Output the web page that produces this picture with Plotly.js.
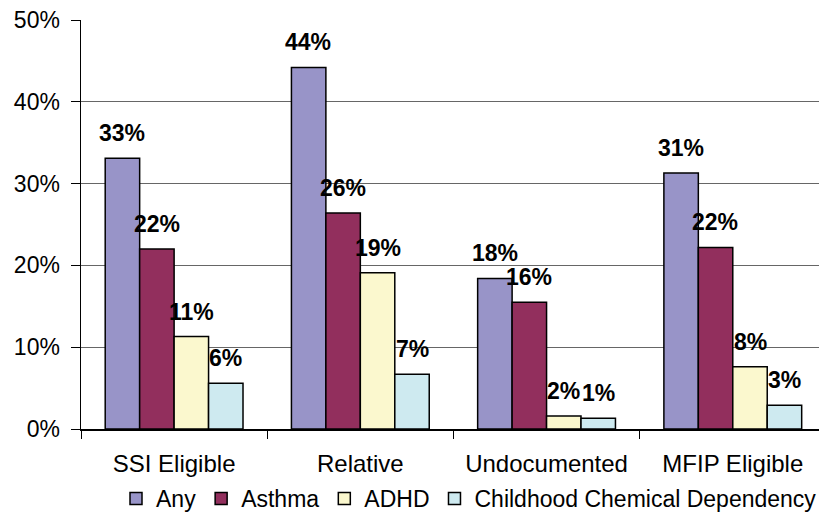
<!DOCTYPE html>
<html>
<head>
<meta charset="utf-8">
<script src="https://cdn.plot.ly/plotly-3.0.1.min.js"></script>
<style>
  html, body { margin: 0; padding: 0; background: #fff; }
  #chart { width: 822px; height: 527px; }
</style>
</head>
<body>
<div id="chart"></div>
<script>
// Program groups and the share of children with each condition (%)
const groups = ['SSI Eligible', 'Relative', 'Undocumented', 'MFIP Eligible'];
const seriesNames = ['Any', 'Asthma', 'ADHD', 'Childhood Chemical Dependency'];
const anyVals = [33.1, 44.2, 18.4, 31.3];
const asthmaVals = [22.0, 26.4, 15.5, 22.2];
const adhdVals = [11.3, 19.1, 1.6, 7.6];
const ccdVals = [5.6, 6.7, 1.3, 2.9];
const yTickVals = [0, 10, 20, 30, 40, 50];
const yTickText = ['0%', '10%', '20%', '30%', '40%', '50%'];

const seriesValues = [anyVals, asthmaVals, adhdVals, ccdVals];
const seriesColors = ['#9894C8', '#922F5D', '#FBF8CE', '#CEEAF0'];

const FONT = '"Liberation Sans", Arial, sans-serif';

const traces = seriesValues.map((vals, i) => ({
  type: 'bar',
  name: seriesNames[i],
  x: groups,
  y: vals,
  marker: { color: seriesColors[i], line: { color: '#000', width: 1.5 } },
  hoverinfo: 'skip'
}));

// Plot area geometry used to centre each value label over its own bar
const W = 822, H = 527;
const margin = { l: 81, r: 0, t: 20, b: 98 };
const xRange = [-0.5, 3.463];
const plotW = W - margin.l - margin.r;
const catPx = plotW / (xRange[1] - xRange[0]);
const bargap = 0.26;
const barPx = catPx * (1 - bargap) / seriesValues.length;

const annotations = [];
seriesValues.forEach((vals, i) => {
  vals.forEach((v, j) => {
    annotations.push({
      x: groups[j],
      y: v,
      xref: 'x', yref: 'y',
      text: '<b>' + Math.round(v) + '%</b>',
      showarrow: false,
      xanchor: 'center',
      yanchor: 'bottom',
      xshift: (i - (seriesValues.length - 1) / 2) * barPx,
      yshift: 10,
      font: { family: FONT, size: 23, color: '#000' }
    });
  });
});

const layout = {
  width: W,
  height: H,
  margin: margin,
  paper_bgcolor: '#fff',
  plot_bgcolor: '#fff',
  barmode: 'group',
  bargap: bargap,
  bargroupgap: 0,
  showlegend: true,
  legend: {
    orientation: 'h',
    x: 0.526,
    xanchor: 'center',
    y: -0.17,
    yanchor: 'middle',
    bgcolor: 'rgba(0,0,0,0)',
    font: { family: FONT, size: 23, color: '#000' },
    itemwidth: 30,
    tracegroupgap: 0
  },
  xaxis: {
    type: 'category',
    range: xRange,
    showline: true,
    linecolor: '#000',
    linewidth: 1.5,
    ticks: 'outside',
    tickson: 'boundaries',
    ticklen: 8,
    tickcolor: '#000',
    tickwidth: 1,
    showgrid: false,
    tickfont: { family: FONT, size: 24, color: '#000' },
    ticklabelstandoff: 13,
    fixedrange: true
  },
  yaxis: {
    range: [0, 50],
    tickvals: yTickVals,
    ticktext: yTickText,
    showline: true,
    linecolor: '#000',
    linewidth: 1.5,
    ticks: 'outside',
    ticklen: 9,
    tickcolor: '#000',
    tickwidth: 1,
    showgrid: true,
    gridcolor: '#666',
    gridwidth: 1.2,
    zeroline: false,
    tickfont: { family: FONT, size: 23, color: '#000' },
    ticklabelstandoff: 6,
    fixedrange: true
  },
  annotations: annotations
};

Plotly.newPlot('chart', traces, layout, { displayModeBar: false, staticPlot: true });
</script>
</body>
</html>
